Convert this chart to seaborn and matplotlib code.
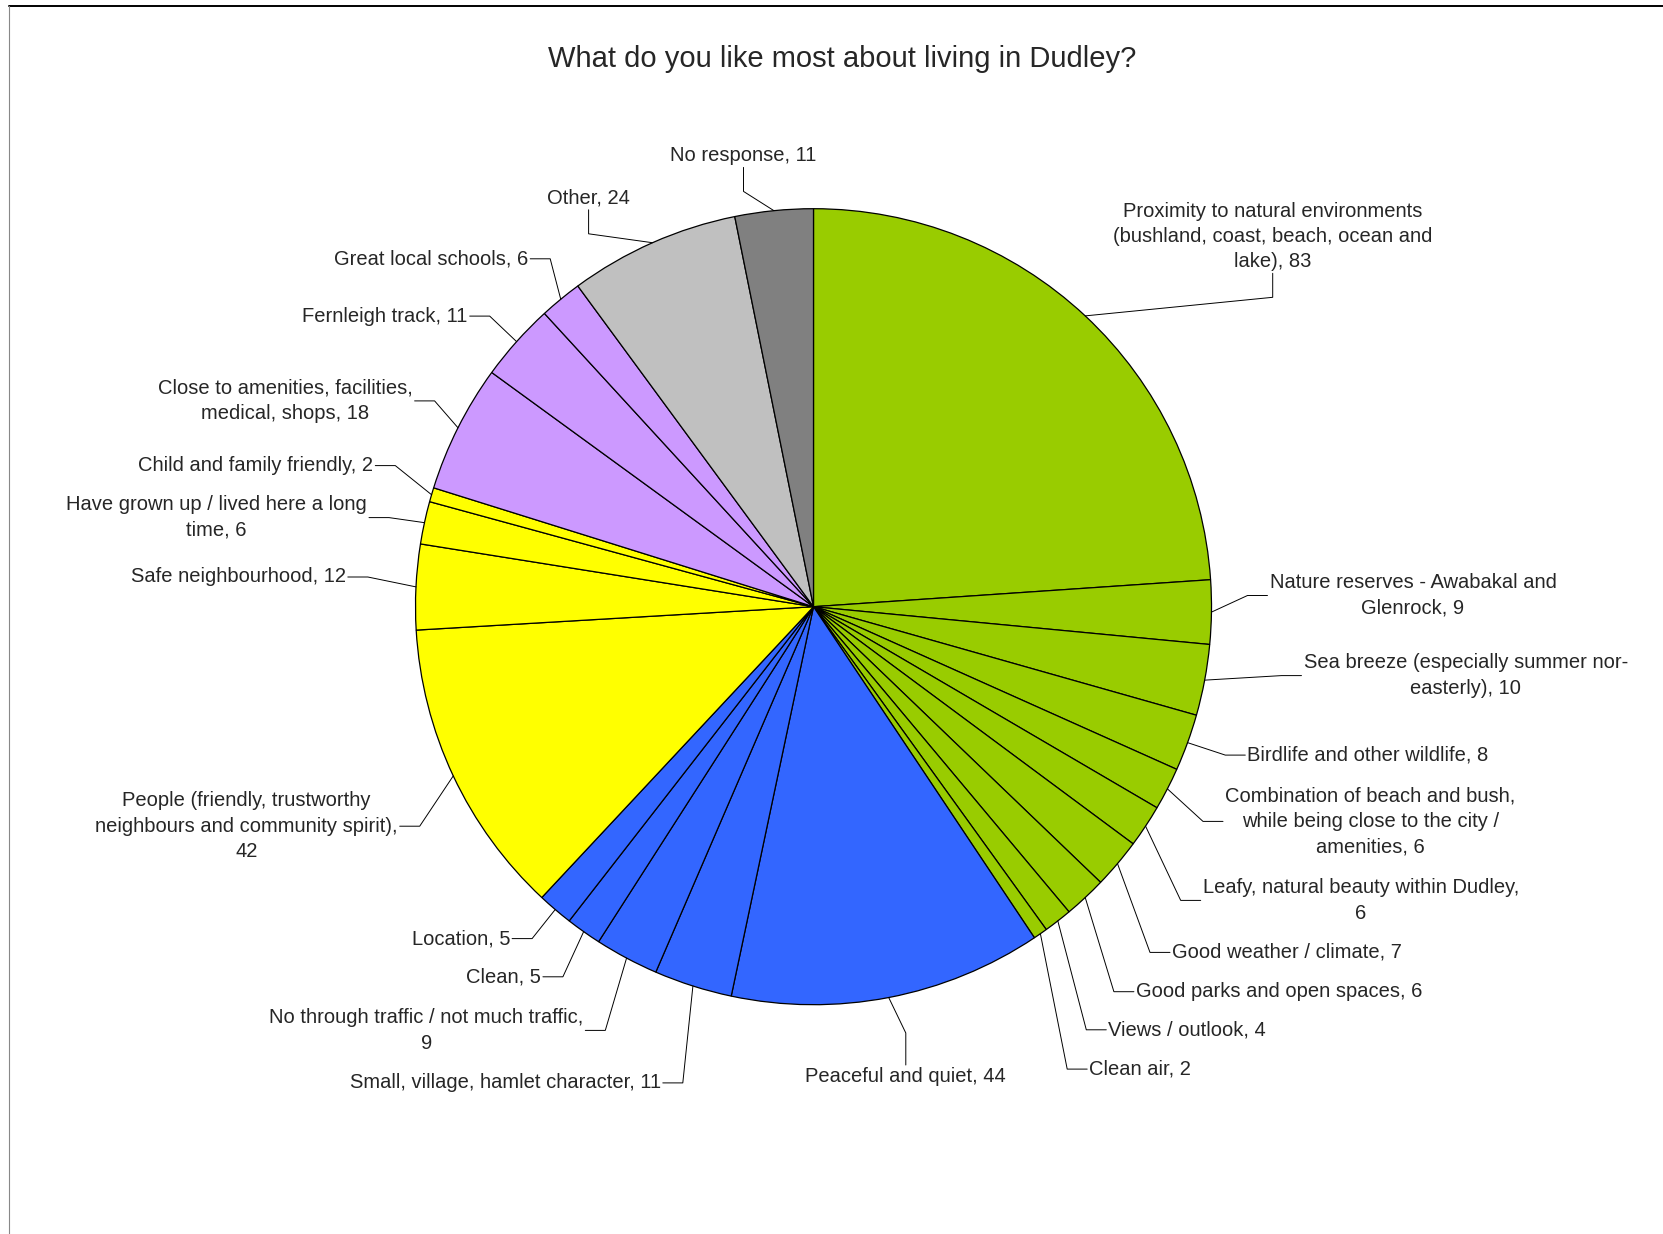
import numpy as np
import matplotlib
matplotlib.use('Agg')
import matplotlib.pyplot as plt
import seaborn as sns

# Survey answers, clockwise from 12 o'clock
categories = [
    'Proximity to natural environments\n(bushland, coast, beach, ocean and\nlake)',
    'Nature reserves - Awabakal and\nGlenrock',
    'Sea breeze (especially summer nor-\neasterly)',
    'Birdlife and other wildlife',
    'Combination of beach and bush,\nwhile being close to the city /\namenities',
    'Leafy, natural beauty within Dudley',
    'Good weather / climate',
    'Good parks and open spaces',
    'Views / outlook',
    'Clean air',
    'Peaceful and quiet',
    'Small, village, hamlet character',
    'No through traffic / not much traffic',
    'Clean',
    'Location',
    'People (friendly, trustworthy\nneighbours and community spirit)',
    'Safe neighbourhood',
    'Have grown up / lived here a long\ntime',
    'Child and family friendly',
    'Close to amenities, facilities,\nmedical, shops',
    'Fernleigh track',
    'Great local schools',
    'Other',
    'No response',
]
values = [83, 9, 10, 8, 6, 6, 7, 6, 4, 2,
          44, 11, 9, 5, 5,
          42, 12, 6, 2,
          18, 11, 6,
          24, 11]

# styling
groups = ['green'] * 10 + ['blue'] * 5 + ['yellow'] * 4 + ['purple'] * 3 + ['lgray', 'dgray']
group_colors = {'green': '#99CC00', 'blue': '#3366FF', 'yellow': '#FFFF00',
                'purple': '#CC99FF', 'lgray': '#C0C0C0', 'dgray': '#808080'}
value_sep = [', ', ', ', ', ', ', ', ', ', ',\n', ', ', ', ', ', ', ', ',
             ', ', ', ', ',\n', ', ', ', ',
             ',\n', ', ', ', ', ', ',
             ', ', ', ', ', ',
             ', ', ', ']

# label placement in pixels (x, y, side of pie)
label_pos = [
    (1272.7, 236.5, 't'), (1269.5, 595.5, 'r'), (1303.5, 675.6, 'r'), (1247.3, 755.1, 'r'),
    (1225.0, 821.4, 'r'), (1202.7, 900.4, 'r'), (1172.0, 952.4, 'r'), (1135.9, 991.7, 'r'),
    (1108.3, 1029.8, 'r'), (1089.2, 1069.1, 'r'),
    (905.8, 1076.5, 'b'), (660.8, 1082.9, 'l'), (583.3, 1030.4, 'l'), (540.9, 976.8, 'l'),
    (510.1, 938.6, 'l'),
    (397.7, 826.2, 'l'), (345.8, 577.0, 'l'), (367.0, 517.6, 'l'), (373.3, 465.6, 'l'),
    (412.6, 400.9, 'l'), (467.7, 316.1, 'l'), (528.2, 258.8, 'l'),
    (588.6, 198.3, 't'), (743.5, 155.9, 't'),
]

W, H = 1663, 1234
cx, cy, R = 813.5, 606.7, 398

sns.set_style('white')
plt.rcParams['font.family'] = ['Liberation Sans', 'DejaVu Sans']

fig = plt.figure(figsize=(W / 100, H / 100), dpi=100)
ax = fig.add_axes([0, 0, 1, 1])

wedges, _ = ax.pie(values, colors=[group_colors[g] for g in groups],
                   startangle=-90, counterclock=True, center=(cx, cy), radius=R,
                   wedgeprops=dict(edgecolor='black', linewidth=0.9))
ax.set_xlim(0, W)
ax.set_ylim(H, 0)
ax.axis('off')

# frame (only top and left edges visible)
ax.plot([8.5, W], [6, 6], color='black', lw=1.4, clip_on=False)
ax.plot([8.5, 8.5], [6, H], color='#888888', lw=0.8, clip_on=False)

ax.text(842, 59, 'What do you like most about living in Dudley?', fontsize=21,
        ha='center', va='center')

texts = []
for cat, v, sep, (x, y, side) in zip(categories, values, value_sep, label_pos):
    ha = {'l': 'right', 'r': 'left', 't': 'center', 'b': 'center'}[side]
    t = ax.text(x, y, f'{cat}{sep}{v}', fontsize=14.5, ha=ha, va='center',
                multialignment='center', linespacing=1.42)
    texts.append(t)

fig.canvas.draw()
renderer = fig.canvas.get_renderer()
inv = ax.transData.inverted()

for w, t, (x, y, side) in zip(wedges, texts, label_pos):
    mid = np.deg2rad((w.theta1 + w.theta2) / 2)
    sx, sy = cx + R * np.cos(mid), cy + R * np.sin(mid)
    bb = t.get_window_extent(renderer)
    (x0, y1), (x1, y0) = inv.transform([[bb.x0, bb.y0], [bb.x1, bb.y1]])
    ym = (y0 + y1) / 2
    if side == 'l':
        ex, ey = x1 + 2, ym
        kx, ky = ex + 20, ey
    elif side == 'r':
        ex, ey = x0 - 2, ym
        kx, ky = ex - 20, ey
    elif side == 't':
        ex, ey = x, y1 + 2
        kx, ky = ex, ey + 24
    else:
        ex, ey = x, y0 - 2
        kx, ky = ex, ey - 32
    ax.plot([sx, kx, ex], [sy, ky, ey], color='black', lw=0.7)

fig.savefig('out.png', dpi=100)
